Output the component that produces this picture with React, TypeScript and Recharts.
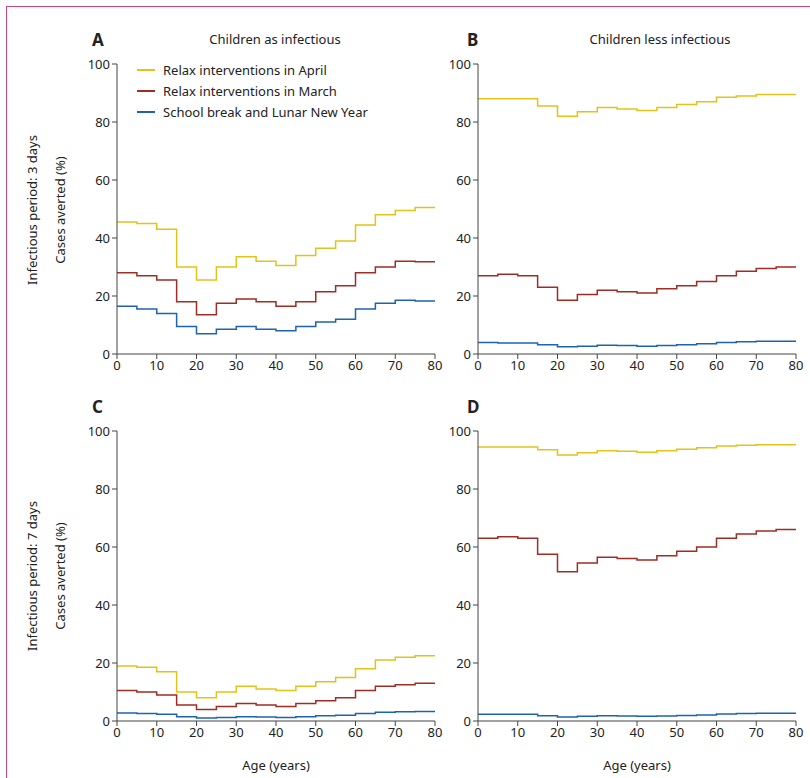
import { LineChart, Line, XAxis, YAxis } from "recharts";

const ages = [0, 5, 10, 15, 20, 25, 30, 35, 40, 45, 50, 55, 60, 65, 70, 75];
const xTicks = [0, 10, 20, 30, 40, 50, 60, 70, 80];
const yTicks = [0, 20, 40, 60, 80, 100];

const aApril = [45.5, 45, 43, 30, 25.5, 30, 33.5, 32, 30.5, 34, 36.5, 39, 44.5, 48, 49.5, 50.5];
const aMarch = [28, 27, 25.5, 18, 13.5, 17.5, 19, 18, 16.5, 18, 21.5, 23.5, 28, 30, 32, 31.8];
const aSchool = [16.5, 15.5, 14, 9.5, 7, 8.5, 9.5, 8.5, 8, 9.5, 11, 12, 15.5, 17.5, 18.5, 18.3];

const bApril = [88, 88, 88, 85.5, 82, 83.5, 85, 84.5, 84, 85, 86, 87, 88.5, 89, 89.5, 89.5];
const bMarch = [27, 27.5, 27, 23, 18.5, 20.5, 22, 21.5, 21, 22.5, 23.5, 25, 27, 28.5, 29.5, 30];
const bSchool = [4, 3.8, 3.8, 3.2, 2.5, 2.7, 3, 2.9, 2.7, 2.9, 3.2, 3.5, 4, 4.2, 4.4, 4.4];

const cApril = [19, 18.5, 17, 10, 8, 10, 12, 11, 10.5, 12, 13.5, 15, 18, 21, 22, 22.5];
const cMarch = [10.5, 10, 9, 5.5, 4, 5, 6, 5.5, 5, 6, 7, 8, 10.5, 12, 12.5, 13];
const cSchool = [2.8, 2.6, 2.3, 1.5, 1, 1.2, 1.5, 1.4, 1.2, 1.5, 1.8, 2, 2.6, 3, 3.2, 3.3];

const dApril = [94.5, 94.5, 94.5, 93.5, 91.7, 92.5, 93.2, 93, 92.7, 93.2, 93.7, 94.2, 94.8, 95.1, 95.3, 95.3];
const dMarch = [63, 63.5, 63, 57.5, 51.5, 54.5, 56.5, 56, 55.5, 57, 58.5, 60, 63, 64.5, 65.5, 66];
const dSchool = [2.3, 2.3, 2.3, 1.8, 1.4, 1.6, 1.8, 1.7, 1.6, 1.7, 1.9, 2.1, 2.4, 2.6, 2.7, 2.7];

const YELLOW = "#E3C21A";
const RED = "#9E2D25";
const BLUE = "#1E63AE";
const AXIS = "#444";
const FONT = "'Noto Sans', sans-serif";

function build(april: number[], march: number[], school: number[]) {
  const rows = ages.map((a, i) => ({ age: a, april: april[i], march: march[i], school: school[i] }));
  const n = ages.length - 1;
  rows.push({ age: 80, april: april[n], march: march[n], school: school[n] });
  return rows;
}

function Panel({ left, top, data, showX }: { left: number; top: number; data: any[]; showX: boolean }) {
  const tick = { fontSize: 13, fill: "#222", fontFamily: FONT };
  return (
    <div style={{ position: "absolute", left, top }}>
      <LineChart width={370} height={335} data={data} margin={{ top: 10, right: 15, left: 0, bottom: 0 }}>
        <XAxis
          dataKey="age"
          type="number"
          domain={[0, 80]}
          ticks={xTicks}
          tick={tick}
          stroke={AXIS}
          tickSize={5}
          height={35}
        />
        <YAxis
          domain={[0, 100]}
          ticks={yTicks}
          tick={tick}
          stroke={AXIS}
          tickSize={5}
          width={37}
        />
        <Line type="stepAfter" dataKey="april" stroke={YELLOW} strokeWidth={1.5} dot={false} isAnimationActive={false} />
        <Line type="stepAfter" dataKey="march" stroke={RED} strokeWidth={1.5} dot={false} isAnimationActive={false} />
        <Line type="stepAfter" dataKey="school" stroke={BLUE} strokeWidth={1.5} dot={false} isAnimationActive={false} />
      </LineChart>
      {showX && (
        <div style={{ position: "absolute", left: 37, width: 318, top: 335, textAlign: "center", fontSize: 13 }}>
          Age (years)
        </div>
      )}
    </div>
  );
}

function Rot({ x, y, text }: { x: number; y: number; text: string }) {
  return (
    <div
      style={{
        position: "absolute",
        left: x - 150,
        top: y - 9,
        width: 300,
        textAlign: "center",
        fontSize: 13,
        transform: "rotate(-90deg)",
      }}
    >
      {text}
    </div>
  );
}

const legendItems = [
  { label: "Relax interventions in April", color: YELLOW },
  { label: "Relax interventions in March", color: RED },
  { label: "School break and Lunar New Year", color: BLUE },
];

export default function App() {
  return (
    <div
      style={{
        position: "absolute",
        left: 0,
        top: 0,
        width: 810,
        height: 778,
        background: "#fff",
        fontFamily: FONT,
        color: "#222",
        overflow: "hidden",
      }}
    >
      <div style={{ position: "absolute", left: 6, top: 6, width: 820, height: 800, border: "1px solid #d0467a" }} />
      <Panel left={80} top={54} data={build(aApril, aMarch, aSchool)} showX={false} />
      <Panel left={441} top={54} data={build(bApril, bMarch, bSchool)} showX={false} />
      <Panel left={80} top={421} data={build(cApril, cMarch, cSchool)} showX={true} />
      <Panel left={441} top={421} data={build(dApril, dMarch, dSchool)} showX={true} />

      <div style={{ position: "absolute", left: 92, top: 28, fontSize: 17, fontWeight: 700 }}>A</div>
      <div style={{ position: "absolute", left: 467, top: 28, fontSize: 17, fontWeight: 700 }}>B</div>
      <div style={{ position: "absolute", left: 92, top: 395, fontSize: 17, fontWeight: 700 }}>C</div>
      <div style={{ position: "absolute", left: 467, top: 395, fontSize: 17, fontWeight: 700 }}>D</div>
      <div style={{ position: "absolute", left: 125, width: 300, top: 30, textAlign: "center", fontSize: 13 }}>
        Children as infectious
      </div>
      <div style={{ position: "absolute", left: 510, width: 300, top: 30, textAlign: "center", fontSize: 13 }}>
        Children less infectious
      </div>

      <Rot x={32} y={210} text="Infectious period: 3 days" />
      <Rot x={60} y={210} text="Cases averted (%)" />
      <Rot x={32} y={576} text="Infectious period: 7 days" />
      <Rot x={60} y={576} text="Cases averted (%)" />

      {legendItems.map((it, i) => (
        <div key={it.label} style={{ position: "absolute", left: 137, top: 61 + i * 21, fontSize: 13, display: "flex", alignItems: "center" }}>
          <span style={{ display: "inline-block", width: 18, height: 2, background: it.color, marginRight: 8 }} />
          {it.label}
        </div>
      ))}
    </div>
  );
}
